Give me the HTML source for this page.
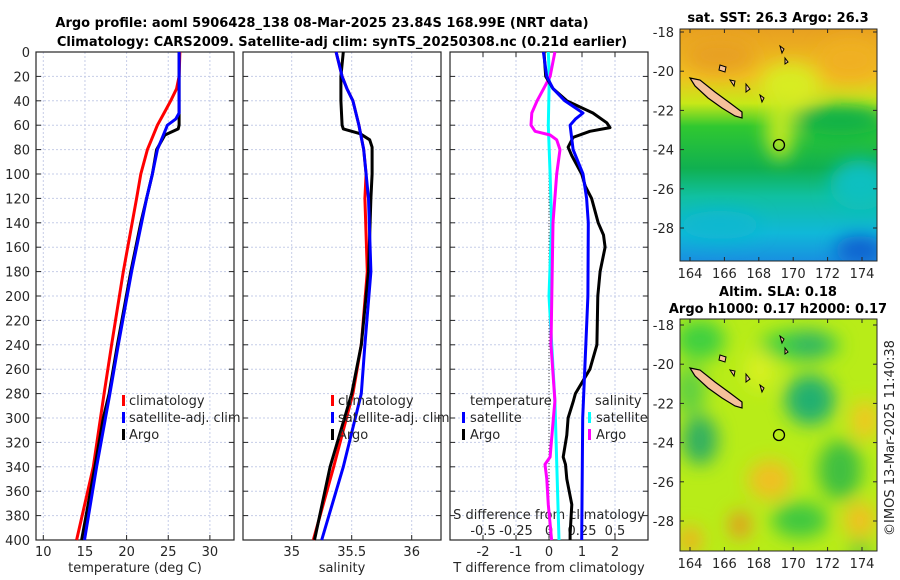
<!DOCTYPE html>
<html><head><meta charset="utf-8"><style>
html,body{margin:0;padding:0;background:#fff}
svg{display:block;font-family:"DejaVu Sans","Liberation Sans",sans-serif}
.t{font-size:13px;fill:#262626}
.b{font-weight:bold;font-size:13px;fill:#000}
</style></head><body>
<svg id="fig" width="900" height="580" viewBox="0 0 900 580">
<defs>
<filter id="blur" x="-20%" y="-20%" width="140%" height="140%"><feGaussianBlur stdDeviation="9"/></filter>
<clipPath id="m1c"><rect x="680" y="29" width="197" height="232"/></clipPath>
<clipPath id="m2c"><rect x="680" y="319" width="197" height="232"/></clipPath>
<linearGradient id="sstg" x1="0" y1="0" x2="0" y2="1">
<stop offset="0" stop-color="#e8a020"/><stop offset="0.2" stop-color="#f0c020"/><stop offset="0.32" stop-color="#c8e818"/><stop offset="0.42" stop-color="#30c830"/><stop offset="0.6" stop-color="#10b050"/><stop offset="0.72" stop-color="#10c0a0"/><stop offset="0.88" stop-color="#10b8d8"/><stop offset="1" stop-color="#1890e0"/>
</linearGradient>
</defs>
<text class="b" x="322" y="27" text-anchor="middle">Argo profile: aoml 5906428_138 08-Mar-2025 23.84S 168.99E (NRT data)</text>
<text class="b" x="342" y="46" text-anchor="middle">Climatology: CARS2009. Satellite-adj clim: synTS_20250308.nc (0.21d earlier)</text>
<g id="plots"></g>

<!-- Map 1 -->
<g>
<text class="b" x="778" y="22" text-anchor="middle">sat. SST: 26.3 Argo: 26.3</text>
<g clip-path="url(#m1c)">
<rect x="680" y="29" width="197" height="232" fill="url(#sstg)"/>
<g filter="url(#blur)">
<ellipse cx="790" cy="85" rx="30" ry="22" fill="#d8ec20"/>
<ellipse cx="780" cy="130" rx="14" ry="30" fill="#c0e820"/>
<ellipse cx="840" cy="120" rx="45" ry="15" fill="#10b048"/>
<ellipse cx="850" cy="60" rx="30" ry="20" fill="#f0b020"/>
<ellipse cx="720" cy="55" rx="35" ry="18" fill="#e8a020"/>
<ellipse cx="860" cy="185" rx="30" ry="25" fill="#10c0c0"/>
<ellipse cx="860" cy="250" rx="25" ry="14" fill="#1060d0"/>
<ellipse cx="720" cy="225" rx="40" ry="14" fill="#10b8d0"/>
</g>
</g>
<rect x="680" y="29" width="197" height="232" fill="none" stroke="#262626"/>
<path d="M690,78 L700,80 L715,92 L730,103 L742,112 L742,118 L735,116 L722,108 L708,98 L695,86 Z" fill="#f5c09a" stroke="#000" stroke-width="1.2"/>
<path d="M720,65 l6,2 l-1,5 l-6,-2z M730,80 l5,1 l-1,5z M746,84 l4,5 l-4,3z M760,95 l4,3 l-2,4z M780,46 l4,3 l-2,4z M785,58 l3,4 l-3,2z" fill="#f5c09a" stroke="#000" stroke-width="1"/>
<circle cx="779" cy="145" r="5.5" fill="none" stroke="#000" stroke-width="1.3"/>
<g id="map1ticks"></g>
</g>

<!-- Map 2 -->
<g>
<text class="b" x="778" y="296" text-anchor="middle">Altim. SLA: 0.18</text>
<text class="b" x="778" y="313" text-anchor="middle">Argo h1000: 0.17 h2000: 0.17</text>
<g clip-path="url(#m2c)">
<rect x="680" y="319" width="197" height="232" fill="#b8ec18"/>
<g filter="url(#blur)">
<ellipse cx="700" cy="340" rx="25" ry="20" fill="#40d040"/>
<ellipse cx="800" cy="345" rx="40" ry="15" fill="#40d040"/>
<ellipse cx="810" cy="400" rx="25" ry="25" fill="#20b070"/>
<ellipse cx="810" cy="345" rx="20" ry="15" fill="#30b860"/>
<ellipse cx="700" cy="440" rx="18" ry="25" fill="#30b060"/>
<ellipse cx="690" cy="390" rx="16" ry="25" fill="#60d040"/>
<ellipse cx="840" cy="470" rx="22" ry="30" fill="#40c040"/>
<ellipse cx="800" cy="520" rx="28" ry="18" fill="#40c840"/>
<ellipse cx="770" cy="480" rx="22" ry="20" fill="#f0c020"/>
<ellipse cx="740" cy="525" rx="10" ry="14" fill="#e89020"/>
<ellipse cx="690" cy="540" rx="12" ry="14" fill="#f0b020"/>
<ellipse cx="865" cy="420" rx="14" ry="20" fill="#f0c820"/>
<ellipse cx="860" cy="520" rx="16" ry="18" fill="#f0c020"/>
<ellipse cx="860" cy="550" rx="10" ry="8" fill="#40c040"/>
<ellipse cx="760" cy="370" rx="15" ry="20" fill="#d8f020"/>
</g>
</g>
<rect x="680" y="319" width="197" height="232" fill="none" stroke="#262626"/>
<path d="M690,368 L700,370 L715,382 L730,393 L742,402 L742,408 L735,406 L722,398 L708,388 L695,376 Z" fill="#f5c09a" stroke="#000" stroke-width="1.2"/>
<path d="M720,355 l6,2 l-1,5 l-6,-2z M730,370 l5,1 l-1,5z M746,374 l4,5 l-4,3z M760,385 l4,3 l-2,4z M780,336 l4,3 l-2,4z M785,348 l3,4 l-3,2z" fill="#f5c09a" stroke="#000" stroke-width="1"/>
<circle cx="779" cy="435" r="5.5" fill="none" stroke="#000" stroke-width="1.3"/>
<g id="map2ticks"></g>
</g>
<text class="t" transform="translate(894,438) rotate(-90)" text-anchor="middle">©IMOS 13-Mar-2025 11:40:38</text>
</svg>
<script>
const NS='http://www.w3.org/2000/svg';
// ---- data ----
const depthTicks=[0,20,40,60,80,100,120,140,160,180,200,220,240,260,280,300,320,340,360,380,400];
const tempTicks=[10,15,20,25,30];
const salTicks=[35,35.5,36];
const tdiffTicks=[-2,-1,0,1,2];
const sdiffTicks=[-0.5,-0.25,0,0.25,0.5];
const sdiffLabels=['-0.5','-0.25','0','0.25','0.5'];
const climDepth=[0,20,30,40,50,60,70,80,100,120,180,240,280,340,400];
const tempClim=[26.4,26.3,26.0,25.3,24.5,23.7,23.1,22.5,21.7,21.2,19.6,18.2,17.3,16.0,14.0];
const satDepth=[0,20,40,50,55,60,70,80,100,120,180,240,280,340,400];
const tempSat=[26.3,26.3,26.3,26.3,25.9,24.9,24.3,23.7,23.1,22.4,20.6,19.0,18.0,16.4,14.95];
const argoDepth=[0,20,40,60,63,68,80,100,120,140,180,240,280,300,340,370,400];
const tempArgo=[26.3,26.3,26.3,26.3,26.2,24.6,23.6,23.1,22.4,21.7,20.5,18.9,17.9,17.2,16.2,15.4,14.6];
const salClimDepth=[0,20,30,40,60,80,100,120,180,240,280,340,400];
const salClim=[35.37,35.42,35.46,35.51,35.56,35.60,35.62,35.61,35.63,35.58,35.51,35.35,35.18];
const salSat=[35.37,35.42,35.46,35.51,35.56,35.60,35.62,35.64,35.66,35.61,35.58,35.43,35.25];
const salArgoDepth=[0,20,40,60,63,67,72,78,100,120,180,240,280,300,340,400];
const salArgo=[35.43,35.41,35.41,35.42,35.43,35.57,35.65,35.67,35.67,35.66,35.64,35.58,35.50,35.44,35.32,35.19];
const tdSatDepth=[0,20,30,40,50,55,60,80,100,120,140,200,300,400];
const tdiffSat=[-0.17,-0.07,0.12,0.48,1.03,0.8,0.64,0.73,1.03,1.14,1.19,1.18,1.02,0.99];
const tdArgoDepth=[0,20,30,40,50,58,62,65,70,78,85,100,110,120,140,150,160,180,200,240,260,280,286,300,314,332,338,350,371,395,400];
const tdiffArgo=[-0.15,-0.1,0.12,0.54,1.33,1.75,1.85,1.24,0.73,0.58,0.69,0.99,1.1,1.29,1.49,1.65,1.7,1.55,1.48,1.45,1.24,0.8,0.74,0.58,0.54,0.43,0.5,0.54,0.69,0.64,0.64];
const sdSatDepth=[0,20,60,100,140,200,286,400];
const sdiffSat=[-0.005,0.002,-0.005,0.008,0.02,0.0,0.045,0.076];
const sdArgoDepth=[0,20,30,40,50,60,65,68,72,80,100,140,240,286,300,332,338,350,371,400];
const sdiffArgo=[0.045,0.008,-0.04,-0.09,-0.13,-0.136,-0.105,0.008,0.058,0.083,0.058,0.03,0.015,0.045,0.033,0.008,-0.03,-0.017,-0.005,0.02];
const lonTicks=[164,166,168,170,172,174];
const latTicks=[-18,-20,-22,-24,-26,-28];

// ---- layout ----
const Y0=52,Y1=540;
const yD=d=>Y0+(Y1-Y0)*d/400;
const panels=[
 {x0:36,x1:234,xs:v=>43.3+8.33*(v-10),ticks:tempTicks,labels:tempTicks.map(String),label:'temperature (deg C)',name:'temperature'},
 {x0:243,x1:441,xs:v=>291.7+120*(v-35),ticks:salTicks,labels:salTicks.map(String),label:'salinity',name:'salinity'},
 {x0:450,x1:648,xs:v=>549+33*v,ticks:tdiffTicks,labels:tdiffTicks.map(String),label:'T difference from climatology',name:'difference'}
];
const sdX=v=>549+132*v;
const G=document.getElementById('plots');
function el(t,a,p){const e=document.createElementNS(NS,t);for(const k in a)e.setAttribute(k,a[k]);(p||G).appendChild(e);return e;}
function txt(s,a,p){const e=el('text',a,p);e.textContent=s;return e;}

panels.forEach((P,i)=>{
 const g=el('g',{});
 
 
 depthTicks.forEach(d=>{
  const ln=el('line',{x1:P.x0,x2:P.x1,y1:yD(d),y2:yD(d),stroke:'#c6cde8','stroke-dasharray':'2,2','stroke-width':1},g);
  
  
  el('line',{x1:P.x0,x2:P.x0+5,y1:yD(d),y2:yD(d),stroke:'#262626'},g);
  el('line',{x1:P.x1,x2:P.x1-5,y1:yD(d),y2:yD(d),stroke:'#262626'},g);
  if(i===0){const t=txt(String(d),{class:'t',x:30,y:yD(d)+5,'text-anchor':'end'},g);
   
   }
 });
 P.ticks.forEach((v,j)=>{
  const x=P.xs(v);
  const ln=el('line',{x1:x,x2:x,y1:Y0,y2:Y1,stroke:'#c6cde8','stroke-dasharray':'2,2'},g);
  
  
  el('line',{x1:x,x2:x,y1:Y1,y2:Y1-5,stroke:'#262626'},g);
  const t=txt(P.labels[j],{class:'t',x:x,y:556,'text-anchor':'middle'},g);
  
  
 });
 const r=el('rect',{x:P.x0,y:Y0,width:P.x1-P.x0,height:Y1-Y0,fill:'none',stroke:'#262626','stroke-width':1.2},g);
 
 
 const xl=txt(P.label,{class:'t',x:(P.x0+P.x1)/2,y:572,'text-anchor':'middle'},g);
 
 
 P.g=g;
});
sdiffTicks.forEach((v,j)=>{
 const x=sdX(v);
 el('line',{x1:x,x2:x,y1:Y0,y2:Y0+5,stroke:'#262626'},panels[2].g);
 const t=txt(sdiffLabels[j],{class:'t',x:x,y:535,'text-anchor':'middle'},panels[2].g);
 
 
});
const st=txt('S difference from climatology',{class:'t',x:549,y:519,'text-anchor':'middle'},panels[2].g);



function line(p,depths,vals,xs,col,name){
 const pts=vals.map((v,k)=>xs(v).toFixed(1)+','+yD(depths[k]).toFixed(1)).join(' ');
 const e=el('polyline',{points:pts,fill:'none',stroke:col,'stroke-width':3,'stroke-linejoin':'round'},p.g);
 
 
}
const P0=panels[0],P1=panels[1],P2=panels[2];
line(P0,climDepth,tempClim,P0.xs,'#ff0000','temp-climatology-line');
line(P0,argoDepth,tempArgo,P0.xs,'#000000','temp-argo-line');
line(P0,satDepth,tempSat,P0.xs,'#0000ff','temp-satellite-line');
line(P1,salClimDepth,salClim,P1.xs,'#ff0000','sal-climatology-line');
line(P1,salArgoDepth,salArgo,P1.xs,'#000000','sal-argo-line');
line(P1,salClimDepth,salSat,P1.xs,'#0000ff','sal-satellite-line');
el('line',{x1:549,x2:549,y1:Y0,y2:Y1,stroke:'#444','stroke-dasharray':'1,2'},P2.g);
line(P2,sdSatDepth,sdiffSat,sdX,'#00ffff','sdiff-satellite-line');
line(P2,sdArgoDepth,sdiffArgo,sdX,'#ff00ff','sdiff-argo-line');
line(P2,tdArgoDepth,tdiffArgo,P2.xs,'#000000','tdiff-argo-line');
line(P2,tdSatDepth,tdiffSat,P2.xs,'#0000ff','tdiff-satellite-line');

function legend(p,x,items){
 items.forEach((it,k)=>{
  const y=405+k*17;
  if(it[1]){const m=el('rect',{x:x,y:y-10,width:3,height:11,fill:it[1]},p.g);
   
   }
  const t=txt(it[0],{class:'t',x:x+(it[1]?7:0),y:y},p.g);
  
  
 });
}
legend(P0,122,[['climatology','#ff0000'],['satellite-adj. clim','#0000ff'],['Argo','#000']]);
legend(P1,331,[['climatology','#ff0000'],['satellite-adj. clim','#0000ff'],['Argo','#000']]);
legend(P2,470,[['temperature',null]]);
legend(P2,595,[['salinity',null]]);
(function(){
 const items=[[462,'satellite','#0000ff',1],[462,'Argo','#000',2],[588,'satellite','#00ffff',1],[588,'Argo','#ff00ff',2]];
 items.forEach(it=>{
  const y=405+it[3]*17;
  const m=el('rect',{x:it[0],y:y-10,width:3,height:11,fill:it[2]},P2.g);
  
  
  const t=txt(it[1],{class:'t',x:it[0]+8,y:y},P2.g);
  
  
 });
})();

function mapTicks(id,top,bottom,lat0y){
 const g=document.getElementById(id);
 const lonX=l=>690+17.2*(l-164);
 lonTicks.forEach(l=>{
  el('line',{x1:lonX(l),x2:lonX(l),y1:bottom,y2:bottom-4,stroke:'#262626'},g);
  el('line',{x1:lonX(l),x2:lonX(l),y1:top,y2:top+4,stroke:'#262626'},g);
  const t=txt(String(l),{class:'t',x:lonX(l),y:bottom+17,'text-anchor':'middle'},g);
  
  
 });
 latTicks.forEach(a=>{
  const y=lat0y+19.6*(-18-a);
  el('line',{x1:680,x2:684,y1:y,y2:y,stroke:'#262626'},g);
  el('line',{x1:877,x2:873,y1:y,y2:y,stroke:'#262626'},g);
  const t=txt(String(a),{class:'t',x:674,y:y+5,'text-anchor':'end'},g);
  
  
 });
}
mapTicks('map1ticks',29,261,32);
mapTicks('map2ticks',319,551,325);
</script>
</body></html>
